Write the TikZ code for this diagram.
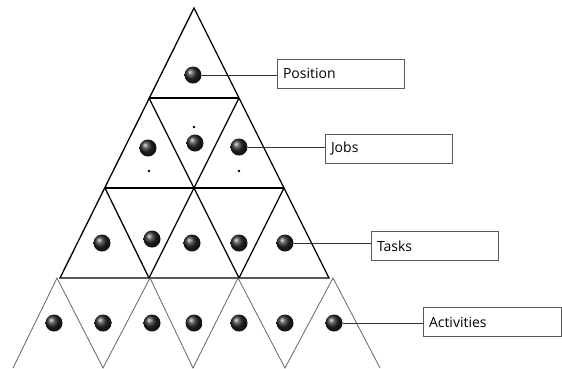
\documentclass[tikz,border=0pt]{standalone}
\usepackage{fontspec}
\setmainfont{Open Sans}
\begin{document}
\begin{tikzpicture}[x=1pt,y=-1pt,
  tri/.style={line width=1.3pt,line join=miter},
  actline/.style={line width=0.8pt,draw=black!60},
  dotball/.style={circle,minimum size=17pt,inner sep=0pt,shading=ball,ball color=black!85},
  pip/.style={circle,fill=black,minimum size=2.6pt,inner sep=0pt},
  lbox/.style={draw=black!65,line width=0.9pt,minimum height=29pt,inner xsep=6pt,align=left,font=\fontsize{14}{16}\selectfont},
  conn/.style={line width=0.9pt,draw=black!80}]
\useasboundingbox (0,0) rectangle (562,368);
% pyramid
\draw[tri] (194,8) -- (60,278) -- (329,278) -- cycle;
\draw[tri] (149,98) -- (239,98);
\draw[tri] (105,188) -- (284,188);
\draw[tri] (149,98) -- (239,278);
\draw[tri] (239,98) -- (149,278);
\draw[tri] (105,188) -- (149,278);
\draw[tri] (284,188) -- (239,278);
% activities
\draw[actline] (13,368) -- (57,278) -- (103,368) -- (150,278) -- (193,368) -- (238,278) -- (285,368) -- (333,278) -- (380,368);
% dots
\node[dotball] (p1) at (193,75) {};
\node[dotball] (j1) at (148,148) {};
\node[dotball] (j2) at (195,143) {};
\node[dotball] (j3) at (239,147) {};
\node[pip] (s1) at (194,127) {};
\node[pip] (s2) at (149,171) {};
\node[pip] (s3) at (239,171) {};
\node[dotball] (t1) at (102,243) {};
\node[dotball] (t2) at (152,239) {};
\node[dotball] (t3) at (192,243) {};
\node[dotball] (t4) at (239,243) {};
\node[dotball] (t5) at (285,243) {};
\node[dotball] (a1) at (54,323) {};
\node[dotball] (a2) at (103,323) {};
\node[dotball] (a3) at (152,323) {};
\node[dotball] (a4) at (194,323) {};
\node[dotball] (a5) at (239,323) {};
\node[dotball] (a6) at (285,323) {};
\node[dotball] (a7) at (334,323) {};
% label boxes
\node[lbox,text width=115pt] (bpos) at (340.5,73.5) {Position};
\node[lbox,text width=115pt] (bjob) at (388.5,148.5) {Jobs};
\node[lbox,text width=115pt] (btask) at (434.5,246) {Tasks};
\node[lbox,text width=126pt] (bact) at (492,322) {Activities};
% connectors
\draw[conn] (p1.east) -- (p1.east -| bpos.west);
\draw[conn] (j3.east) -- (j3.east -| bjob.west);
\draw[conn] (t5.east) -- (t5.east -| btask.west);
\draw[conn] (a7.east) -- (a7.east -| bact.west);
\end{tikzpicture}
\end{document}
